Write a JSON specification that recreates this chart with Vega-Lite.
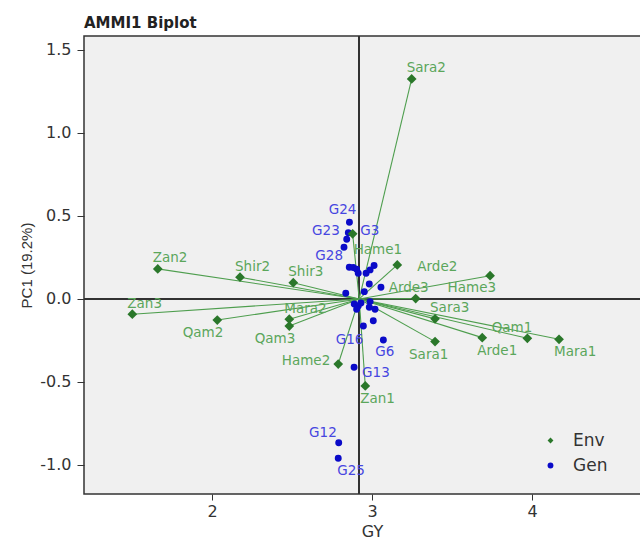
{
  "$schema": "https://vega.github.io/schema/vega-lite/v6.json",
  "autosize": "none",
  "width": 576,
  "height": 458,
  "padding": {"left": 84, "top": 36, "right": 0, "bottom": 45},
  "background": "white",
  "title": {
    "text": "AMMI1 Biplot",
    "anchor": "start",
    "frame": "group",
    "font": "DejaVu Sans",
    "fontSize": 15,
    "fontWeight": "bold",
    "color": "#222222",
    "baseline": "alphabetic",
    "offset": 9,
    "dy": 17
  },
  "config": {
    "view": {"stroke": "#333333", "strokeWidth": 1.5, "fill": "#f0f0f0"},
    "axis": {
      "grid": false,
      "domain": false,
      "tickColor": "#333333",
      "labelColor": "#333333",
      "titleColor": "#333333",
      "labelFont": "DejaVu Sans",
      "labelFontSize": 16,
      "titleFont": "DejaVu Sans",
      "titleFontSize": 16,
      "titleFontWeight": "normal"
    }
  },
  "data": {
    "values": [
      {"name": "Sara2", "type": "Env", "gy": 3.248, "pc1": 1.325},
      {"name": "Zan2", "type": "Env", "gy": 1.661, "pc1": 0.181},
      {"name": "Shir2", "type": "Env", "gy": 2.175, "pc1": 0.131},
      {"name": "Shir3", "type": "Env", "gy": 2.508, "pc1": 0.098},
      {"name": "Zan3", "type": "Env", "gy": 1.502, "pc1": -0.092},
      {"name": "Qam2", "type": "Env", "gy": 2.033, "pc1": -0.127},
      {"name": "Mara2", "type": "Env", "gy": 2.483, "pc1": -0.122},
      {"name": "Qam3", "type": "Env", "gy": 2.483, "pc1": -0.163},
      {"name": "Hame2", "type": "Env", "gy": 2.789, "pc1": -0.392},
      {"name": "Zan1", "type": "Env", "gy": 2.958, "pc1": -0.524},
      {"name": "Hame1", "type": "Env", "gy": 2.879, "pc1": 0.392},
      {"name": "Arde2", "type": "Env", "gy": 3.158, "pc1": 0.205},
      {"name": "Arde3", "type": "Env", "gy": 3.273, "pc1": 0.002},
      {"name": "Hame3", "type": "Env", "gy": 3.738, "pc1": 0.14},
      {"name": "Sara3", "type": "Env", "gy": 3.394, "pc1": -0.12},
      {"name": "Sara1", "type": "Env", "gy": 3.394, "pc1": -0.257},
      {"name": "Arde1", "type": "Env", "gy": 3.689, "pc1": -0.233},
      {"name": "Qam1", "type": "Env", "gy": 3.971, "pc1": -0.237},
      {"name": "Mara1", "type": "Env", "gy": 4.169, "pc1": -0.243},
      {"name": "G24", "type": "Gen", "gy": 2.859, "pc1": 0.462},
      {"name": "G3", "type": "Gen", "gy": 2.852, "pc1": 0.399},
      {"name": "G23", "type": "Gen", "gy": 2.842, "pc1": 0.36},
      {"name": "G28", "type": "Gen", "gy": 2.825, "pc1": 0.311},
      {"name": "G1", "type": "Gen", "gy": 2.858, "pc1": 0.191},
      {"name": "G2", "type": "Gen", "gy": 2.883, "pc1": 0.189},
      {"name": "G4", "type": "Gen", "gy": 2.904, "pc1": 0.179},
      {"name": "G5", "type": "Gen", "gy": 2.914, "pc1": 0.155},
      {"name": "G7", "type": "Gen", "gy": 2.963, "pc1": 0.155},
      {"name": "G8", "type": "Gen", "gy": 2.988, "pc1": 0.175},
      {"name": "G9", "type": "Gen", "gy": 3.013, "pc1": 0.201},
      {"name": "G10", "type": "Gen", "gy": 2.983, "pc1": 0.09},
      {"name": "G11", "type": "Gen", "gy": 3.056, "pc1": 0.07},
      {"name": "G14", "type": "Gen", "gy": 2.952, "pc1": 0.044},
      {"name": "G15", "type": "Gen", "gy": 2.836, "pc1": 0.034},
      {"name": "G17", "type": "Gen", "gy": 2.889, "pc1": -0.03},
      {"name": "G18", "type": "Gen", "gy": 2.914, "pc1": -0.042},
      {"name": "G19", "type": "Gen", "gy": 2.904, "pc1": -0.062},
      {"name": "G20", "type": "Gen", "gy": 2.988, "pc1": -0.016},
      {"name": "G21", "type": "Gen", "gy": 2.983, "pc1": -0.05},
      {"name": "G22", "type": "Gen", "gy": 3.019, "pc1": -0.062},
      {"name": "G26", "type": "Gen", "gy": 3.008, "pc1": -0.131},
      {"name": "G27", "type": "Gen", "gy": 2.931, "pc1": -0.024},
      {"name": "G16", "type": "Gen", "gy": 2.946, "pc1": -0.163},
      {"name": "G6", "type": "Gen", "gy": 3.071, "pc1": -0.247},
      {"name": "G13", "type": "Gen", "gy": 2.888, "pc1": -0.411},
      {"name": "G12", "type": "Gen", "gy": 2.792, "pc1": -0.866},
      {"name": "G25", "type": "Gen", "gy": 2.789, "pc1": -0.96}
    ]
  },
  "layer": [
    {
      "mark": {"type": "rule", "color": "#333333", "strokeWidth": 1.2},
      "encoding": {
        "x": {
          "datum": 2.92,
          "type": "quantitative",
          "scale": {"domain": [1.2, 4.8], "nice": false, "zero": false},
          "axis": {"values": [2, 3, 4], "format": "d", "tickSize": 6, "labelPadding": 3, "title": "GY", "titlePadding": 4}
        }
      }
    },
    {
      "mark": {"type": "rule", "color": "#333333", "strokeWidth": 1.2},
      "encoding": {
        "y": {
          "datum": 0,
          "type": "quantitative",
          "scale": {"domain": [-1.175, 1.584], "nice": false, "zero": false},
          "axis": {
            "values": [-1, -0.5, 0, 0.5, 1, 1.5],
            "labelExpr": "replace(format(datum.value, '.1f'), '\u2212', '-')",
            "tickSize": 7,
            "labelPadding": 6,
            "title": "PC1 (19.2%)",
            "titleFont": "Liberation Sans",
            "titleFontSize": 15,
            "titlePadding": 5
          }
        }
      }
    },
    {
      "transform": [{"filter": "datum.type === 'Env'"}],
      "mark": {"type": "rule", "color": "#4e9e4e", "strokeWidth": 1.1},
      "encoding": {
        "x": {"field": "gy", "type": "quantitative"},
        "y": {"field": "pc1", "type": "quantitative"},
        "x2": {"datum": 2.92},
        "y2": {"datum": 0}
      }
    },
    {
      "transform": [{"filter": "datum.type === 'Gen'"}],
      "mark": {"type": "point", "filled": true, "opacity": 1, "size": 48},
      "encoding": {
        "x": {"field": "gy", "type": "quantitative"},
        "y": {"field": "pc1", "type": "quantitative"},
        "color": {
          "field": "type",
          "type": "nominal",
          "scale": {"domain": ["Env", "Gen"], "range": ["#2a772a", "#0a0ac8"]},
          "legend": {
            "title": null,
            "orient": "none",
            "legendX": 458,
            "legendY": 396,
            "padding": 0,
            "symbolSize": 34,
            "labelFont": "DejaVu Sans",
            "labelFontSize": 17,
            "labelColor": "#333333",
            "labelOffset": 14,
            "rowPadding": 7
          }
        },
        "shape": {
          "field": "type",
          "type": "nominal",
          "scale": {"domain": ["Env", "Gen"], "range": ["diamond", "circle"]}
        }
      }
    },
    {
      "transform": [{"filter": "datum.type === 'Env'"}],
      "mark": {"type": "point", "filled": true, "opacity": 1, "size": 95},
      "encoding": {
        "x": {"field": "gy", "type": "quantitative"},
        "y": {"field": "pc1", "type": "quantitative"},
        "color": {"field": "type", "type": "nominal"},
        "shape": {"field": "type", "type": "nominal"}
      }
    },
    {
      "transform": [{"filter": {"field": "name", "oneOf": ["Sara2", "Zan2", "Shir2", "Shir3", "Zan3", "Mara2", "Sara3"]}}],
      "mark": {"type": "text", "align": "left", "baseline": "alphabetic", "dx": -5, "dy": -6.5, "font": "DejaVu Sans", "fontSize": 13.5, "color": "#5ba65b"},
      "encoding": {"x": {"field": "gy", "type": "quantitative"}, "y": {"field": "pc1", "type": "quantitative"}, "text": {"field": "name"}}
    },
    {
      "transform": [{"filter": {"field": "name", "oneOf": ["Zan1", "Mara1", "Arde1"]}}],
      "mark": {"type": "text", "align": "left", "baseline": "alphabetic", "dx": -5, "dy": 17, "font": "DejaVu Sans", "fontSize": 13.5, "color": "#5ba65b"},
      "encoding": {"x": {"field": "gy", "type": "quantitative"}, "y": {"field": "pc1", "type": "quantitative"}, "text": {"field": "name"}}
    },
    {
      "transform": [{"filter": {"field": "name", "oneOf": ["Qam2", "Qam3", "Hame3"]}}],
      "mark": {"type": "text", "align": "right", "baseline": "alphabetic", "dx": 6, "dy": 16.5, "font": "DejaVu Sans", "fontSize": 13.5, "color": "#5ba65b"},
      "encoding": {"x": {"field": "gy", "type": "quantitative"}, "y": {"field": "pc1", "type": "quantitative"}, "text": {"field": "name"}}
    },
    {
      "transform": [{"filter": {"field": "name", "oneOf": ["Hame1"]}}],
      "mark": {"type": "text", "align": "left", "baseline": "alphabetic", "dx": 1, "dy": 20, "font": "DejaVu Sans", "fontSize": 13.5, "color": "#5ba65b"},
      "encoding": {"x": {"field": "gy", "type": "quantitative"}, "y": {"field": "pc1", "type": "quantitative"}, "text": {"field": "name"}}
    },
    {
      "transform": [{"filter": {"field": "name", "oneOf": ["Sara1"]}}],
      "mark": {"type": "text", "align": "left", "baseline": "alphabetic", "dx": -26, "dy": 17, "font": "DejaVu Sans", "fontSize": 13.5, "color": "#5ba65b"},
      "encoding": {"x": {"field": "gy", "type": "quantitative"}, "y": {"field": "pc1", "type": "quantitative"}, "text": {"field": "name"}}
    },
    {
      "transform": [{"filter": {"field": "name", "oneOf": ["Hame2"]}}],
      "mark": {"type": "text", "align": "right", "baseline": "alphabetic", "dx": -8, "dy": 1, "font": "DejaVu Sans", "fontSize": 13.5, "color": "#5ba65b"},
      "encoding": {"x": {"field": "gy", "type": "quantitative"}, "y": {"field": "pc1", "type": "quantitative"}, "text": {"field": "name"}}
    },
    {
      "transform": [{"filter": {"field": "name", "oneOf": ["Arde2"]}}],
      "mark": {"type": "text", "align": "left", "baseline": "alphabetic", "dx": 20, "dy": 6.5, "font": "DejaVu Sans", "fontSize": 13.5, "color": "#5ba65b"},
      "encoding": {"x": {"field": "gy", "type": "quantitative"}, "y": {"field": "pc1", "type": "quantitative"}, "text": {"field": "name"}}
    },
    {
      "transform": [{"filter": {"field": "name", "oneOf": ["Arde3"]}}],
      "mark": {"type": "text", "align": "left", "baseline": "alphabetic", "dx": -27, "dy": -7, "font": "DejaVu Sans", "fontSize": 13.5, "color": "#5ba65b"},
      "encoding": {"x": {"field": "gy", "type": "quantitative"}, "y": {"field": "pc1", "type": "quantitative"}, "text": {"field": "name"}}
    },
    {
      "transform": [{"filter": {"field": "name", "oneOf": ["Qam1"]}}],
      "mark": {"type": "text", "align": "right", "baseline": "alphabetic", "dx": 5, "dy": -6.5, "font": "DejaVu Sans", "fontSize": 13.5, "color": "#5ba65b"},
      "encoding": {"x": {"field": "gy", "type": "quantitative"}, "y": {"field": "pc1", "type": "quantitative"}, "text": {"field": "name"}}
    },
    {
      "transform": [{"filter": {"field": "name", "oneOf": ["G24"]}}],
      "mark": {"type": "text", "align": "right", "baseline": "alphabetic", "dx": 7, "dy": -8, "font": "DejaVu Sans", "fontSize": 13.5, "color": "#4646e0"},
      "encoding": {"x": {"field": "gy", "type": "quantitative"}, "y": {"field": "pc1", "type": "quantitative"}, "text": {"field": "name"}}
    },
    {
      "transform": [{"filter": {"field": "name", "oneOf": ["G23"]}}],
      "mark": {"type": "text", "align": "right", "baseline": "alphabetic", "dx": -7, "dy": -4, "font": "DejaVu Sans", "fontSize": 13.5, "color": "#4646e0"},
      "encoding": {"x": {"field": "gy", "type": "quantitative"}, "y": {"field": "pc1", "type": "quantitative"}, "text": {"field": "name"}}
    },
    {
      "transform": [{"filter": {"field": "name", "oneOf": ["G3"]}}],
      "mark": {"type": "text", "align": "left", "baseline": "alphabetic", "dx": 12, "dy": 2.5, "font": "DejaVu Sans", "fontSize": 13.5, "color": "#4646e0"},
      "encoding": {"x": {"field": "gy", "type": "quantitative"}, "y": {"field": "pc1", "type": "quantitative"}, "text": {"field": "name"}}
    },
    {
      "transform": [{"filter": {"field": "name", "oneOf": ["G28"]}}],
      "mark": {"type": "text", "align": "right", "baseline": "alphabetic", "dx": -1, "dy": 12.5, "font": "DejaVu Sans", "fontSize": 13.5, "color": "#4646e0"},
      "encoding": {"x": {"field": "gy", "type": "quantitative"}, "y": {"field": "pc1", "type": "quantitative"}, "text": {"field": "name"}}
    },
    {
      "transform": [{"filter": {"field": "name", "oneOf": ["G16"]}}],
      "mark": {"type": "text", "align": "right", "baseline": "alphabetic", "dx": 0, "dy": 18, "font": "DejaVu Sans", "fontSize": 13.5, "color": "#4646e0"},
      "encoding": {"x": {"field": "gy", "type": "quantitative"}, "y": {"field": "pc1", "type": "quantitative"}, "text": {"field": "name"}}
    },
    {
      "transform": [{"filter": {"field": "name", "oneOf": ["G6"]}}],
      "mark": {"type": "text", "align": "left", "baseline": "alphabetic", "dx": -8, "dy": 16, "font": "DejaVu Sans", "fontSize": 13.5, "color": "#4646e0"},
      "encoding": {"x": {"field": "gy", "type": "quantitative"}, "y": {"field": "pc1", "type": "quantitative"}, "text": {"field": "name"}}
    },
    {
      "transform": [{"filter": {"field": "name", "oneOf": ["G13"]}}],
      "mark": {"type": "text", "align": "left", "baseline": "alphabetic", "dx": 8, "dy": 10, "font": "DejaVu Sans", "fontSize": 13.5, "color": "#4646e0"},
      "encoding": {"x": {"field": "gy", "type": "quantitative"}, "y": {"field": "pc1", "type": "quantitative"}, "text": {"field": "name"}}
    },
    {
      "transform": [{"filter": {"field": "name", "oneOf": ["G12"]}}],
      "mark": {"type": "text", "align": "right", "baseline": "alphabetic", "dx": -2, "dy": -6, "font": "DejaVu Sans", "fontSize": 13.5, "color": "#4646e0"},
      "encoding": {"x": {"field": "gy", "type": "quantitative"}, "y": {"field": "pc1", "type": "quantitative"}, "text": {"field": "name"}}
    },
    {
      "transform": [{"filter": {"field": "name", "oneOf": ["G25"]}}],
      "mark": {"type": "text", "align": "left", "baseline": "alphabetic", "dx": -1, "dy": 16.5, "font": "DejaVu Sans", "fontSize": 13.5, "color": "#4646e0"},
      "encoding": {"x": {"field": "gy", "type": "quantitative"}, "y": {"field": "pc1", "type": "quantitative"}, "text": {"field": "name"}}
    }
  ]
}
